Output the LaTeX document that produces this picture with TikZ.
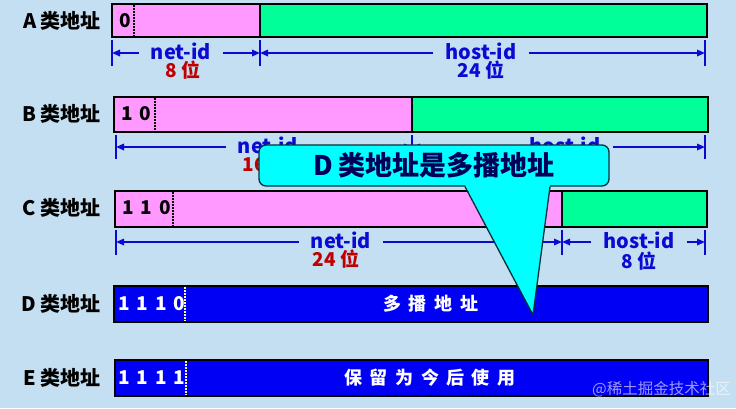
\documentclass[tikz,border=0pt]{standalone}
\usepackage{fontspec}
\setmainfont{Noto Sans CJK SC}
\usetikzlibrary{arrows.meta}
\definecolor{bg}{RGB}{196,222,242}
\definecolor{lbg}{RGB}{204,228,246}
\definecolor{netpink}{RGB}{255,153,255}
\definecolor{hostgreen}{RGB}{0,255,153}
\definecolor{dblue}{RGB}{0,0,245}
\definecolor{dimblue}{RGB}{10,10,210}
\definecolor{bitred}{RGB}{190,0,0}
\definecolor{navy}{RGB}{0,0,90}
\definecolor{callcyan}{RGB}{0,255,255}
\definecolor{calledge}{RGB}{0,50,60}
\newcommand\bsp{\hspace{7pt}}
\newcommand\csp{\hspace{8pt}}
\begin{document}
\begin{tikzpicture}[x=1pt,y=-1pt,
  rowlabel/.style={anchor=east, font=\fontsize{20}{20}\selectfont\bfseries, inner sep=0pt},
  fieldbox/.style={draw=black, line width=2pt},
  bitstext/.style={anchor=west, font=\fontsize{19}{19}\selectfont\bfseries, inner sep=0pt},
  sepline/.style={dash pattern=on 1.5pt off 1.5pt, line width=1.8pt},
  dimtext/.style={anchor=base, font=\fontsize{20}{20}\selectfont\bfseries, text=dimblue, inner xsep=12pt, inner ysep=1pt},
  sizetext/.style={anchor=base, font=\fontsize{19}{19}\selectfont\bfseries, inner sep=1pt},
  dimarrow/.style={draw=dimblue, line width=1.6pt, -{Triangle[length=8pt,width=6.5pt]}},
  tickline/.style={draw=dimblue, line width=2pt},
  wordtext/.style={font=\fontsize{18}{18}\selectfont\bfseries, text=white, inner sep=0pt},
]
\path[fill=bg] (0,0) rectangle (736,408);
\useasboundingbox (0,0) rectangle (736,408);

% ---------- A ----------
\node[rowlabel] (la) at (101,21) {A 类地址};
\filldraw[fieldbox, fill=netpink] (112,4) rectangle (260,37);
\filldraw[fieldbox, fill=hostgreen] (260,4) rectangle (707,37);
\draw[sepline] (134,5) -- (134,36);
\node[bitstext] (ba) at (119,20.5) {0};
\coordinate (a0) at (112,53);
\coordinate (a1) at (260,53);
\coordinate (a2) at (705,53);
\foreach \c in {a0,a1,a2} \draw[tickline] ([yshift=13pt]\c) -- ([yshift=-13pt]\c);
\node[dimtext] (na) at (181,59) {net-id};
\node[sizetext, text=bitred] (sa) at (183,77) {8 位};
\node[dimtext] (ha) at (481,59) {host-id};
\node[sizetext, text=dimblue] (sha) at (481,77) {24 位};
\draw[dimarrow] (na.west |- a0) -- (a0);
\draw[dimarrow] (na.east |- a1) -- (a1);
\draw[dimarrow] (ha.west |- a1) -- (a1);
\draw[dimarrow] (ha.east |- a2) -- (a2);

% ---------- B ----------
\node[rowlabel] (lb) at (101,114) {B 类地址};
\filldraw[fieldbox, fill=netpink] (114,97) rectangle (412,132);
\filldraw[fieldbox, fill=hostgreen] (412,97) rectangle (708,132);
\draw[sepline] (155,98) -- (155,131);
\node[bitstext] (bb) at (121,114) {1\bsp 0};
\coordinate (b0) at (116,147);
\coordinate (b1) at (412,147);
\coordinate (b2) at (705,147);
\foreach \c in {b0,b1,b2} \draw[tickline] ([yshift=12pt]\c) -- ([yshift=-12pt]\c);
\node[dimtext] (nb) at (268,153) {net-id};
\node[sizetext, text=bitred] (sb) at (266,171) {16 位};
\node[dimtext] (hb) at (565,153) {host-id};
\node[sizetext, text=dimblue] (shb) at (565,171) {16 位};
\draw[dimarrow] (nb.west |- b0) -- (b0);
\draw[dimarrow] (nb.east |- b1) -- (b1);
\draw[dimarrow] (hb.west |- b1) -- (b1);
\draw[dimarrow] (hb.east |- b2) -- (b2);

% ---------- C ----------
\node[rowlabel] (lc) at (101,208) {C 类地址};
\filldraw[fieldbox, fill=netpink] (115,191) rectangle (562,227);
\filldraw[fieldbox, fill=hostgreen] (562,191) rectangle (707,227);
\draw[sepline] (173,192) -- (173,226);
\node[bitstext] (bc) at (122,208) {1\bsp 1\bsp 0};
\coordinate (c0) at (116,242);
\coordinate (c1) at (562,242);
\coordinate (c2) at (705,242);
\foreach \c in {c0,c1,c2} \draw[tickline] ([yshift=12.5pt]\c) -- ([yshift=-12.5pt]\c);
\node[dimtext] (nc) at (341,248) {net-id};
\node[sizetext, text=bitred] (sc) at (336,266) {24 位};
\node[dimtext] (hc) at (639,248) {host-id};
\node[sizetext, text=dimblue] (shc) at (639,268) {8 位};
\draw[dimarrow] (nc.west |- c0) -- (c0);
\draw[dimarrow] (nc.east |- c1) -- (c1);
\draw[dimarrow] (hc.west |- c1) -- (c1);
\draw[dimarrow] (hc.east |- c2) -- (c2);

% ---------- D ----------
\node[rowlabel] (ld) at (101,304) {D 类地址};
\filldraw[fieldbox, fill=dblue] (114,286) rectangle (708,322);
\draw[sepline, draw=yellow!35!white] (185,287) -- (185,321);
\node[bitstext, text=white] (bd) at (118,303.5) {1\bsp 1\bsp 1\bsp 0};
\node[wordtext] (wd) at (431,303.5) {多\csp 播\csp 地\csp 址};

% ---------- E ----------
\node[rowlabel] (le) at (101,378) {E 类地址};
\filldraw[fieldbox, fill=dblue] (115,360) rectangle (708,396);
\draw[sepline, draw=yellow!35!white] (186,361) -- (186,395);
\node[bitstext, text=white] (be) at (118,378) {1\bsp 1\bsp 1\bsp 1};
\node[wordtext] (we) at (430,378) {保\hspace{7.5pt}留\hspace{7.5pt}为\hspace{7.5pt}今\hspace{7.5pt}后\hspace{7.5pt}使\hspace{7.5pt}用};

% ---------- callout ----------
\node[draw=calledge, line width=1.3pt, fill=callcyan, rounded corners=7pt,
      minimum width=350pt, minimum height=41pt, inner sep=0pt, text=navy,
      font=\fontsize{27}{27}\selectfont\bfseries] (call) at (434,165.5) {D 类地址是多播地址};
\coordinate (p1) at ([xshift=31pt]call.south);
\coordinate (p2) at ([xshift=116pt]call.south);
\coordinate (tip) at (533,315);
\fill[callcyan] ([yshift=2pt]p1) -- ([yshift=2pt]p2) -- (tip) -- cycle;
\draw[calledge, line width=1.3pt, line join=miter] (p1) -- (tip) -- (p2);

% ---------- watermark ----------
\node[anchor=east, font=\fontsize{15.5}{15.5}\selectfont, text=white, opacity=0.6, inner sep=0pt] (wm) at (731,389) {@稀土掘金技术社区};
\end{tikzpicture}
\end{document}
